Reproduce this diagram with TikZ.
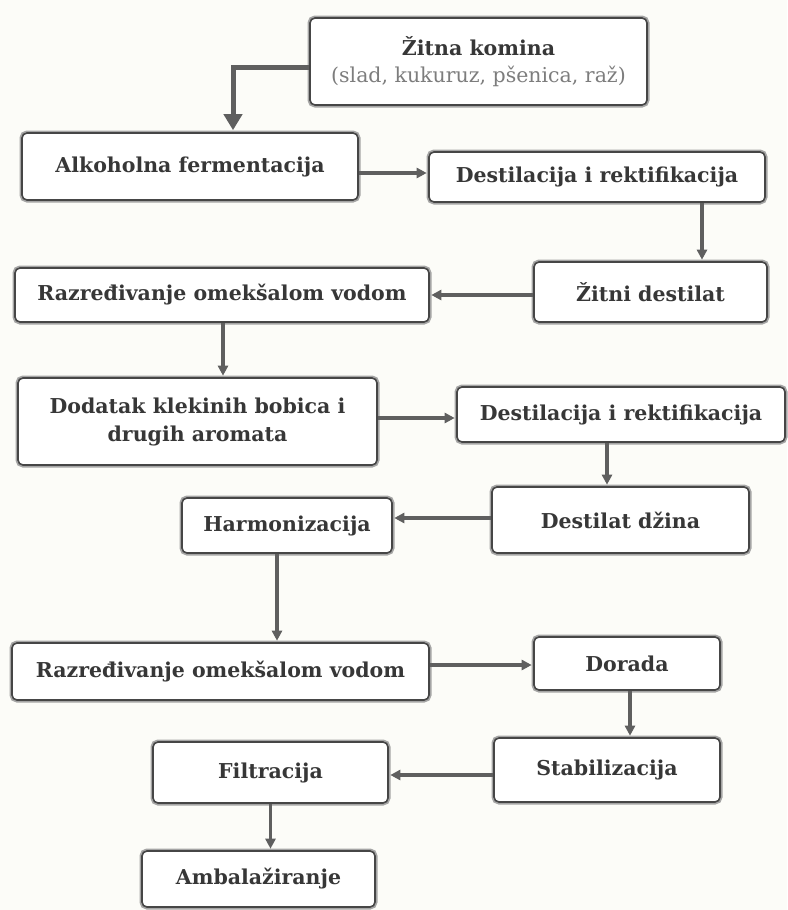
\documentclass[tikz,border=0pt]{standalone}
\usepackage{fontspec}
\setmainfont{DejaVu Serif}
\usetikzlibrary{arrows.meta}
\definecolor{bg}{RGB}{252,252,248}
\definecolor{txt}{RGB}{55,55,55}
\definecolor{sub}{RGB}{125,125,125}
\definecolor{edge}{RGB}{70,70,70}
\definecolor{halo}{RGB}{165,165,165}
\definecolor{arrc}{RGB}{95,95,95}
\tikzset{
  box/.style={rectangle, rounded corners=5pt, fill=white, draw=edge, line width=1.6pt,
    preaction={draw=halo, line width=5pt}, inner sep=0pt, align=center,
    text=txt, font=\fontsize{20.5}{28}\selectfont\bfseries},
  arr/.style={draw=arrc, line width=3.4pt, -{Triangle[length=10pt,width=10pt]}, shorten >=1.5pt},
  bigarr/.style={draw=arrc, line width=5pt, -{Triangle[length=16pt,width=18pt]}, shorten >=2pt}
}
\begin{document}
\begin{tikzpicture}[x=1pt,y=-1pt]
\fill[bg] (0,0) rectangle (787,910);
\useasboundingbox (0,0) rectangle (787,910);

\node[box, minimum width=337pt, minimum height=87pt] (zk) at (478.5,61.5)
  {Žitna komina\\[-1pt]{\fontsize{20.5}{24}\selectfont\mdseries\color{sub}(slad, kukuruz, pšenica, raž)}};
\node[box, minimum width=336pt, minimum height=67pt] (alk) at (190,166.5) {Alkoholna fermentacija};
\node[box, minimum width=336pt, minimum height=50pt] (d1) at (597,177) {Destilacija i rektifikacija};
\node[box, minimum width=233pt, minimum height=60pt] (zd) at (650.5,292) {Žitni destilat};
\node[box, minimum width=414pt, minimum height=54pt] (r1) at (222,295) {Razređivanje omekšalom vodom};
\node[box, minimum width=359pt, minimum height=87pt] (dod) at (197.5,421.5) {Dodatak klekinih bobica i\\drugih aromata};
\node[box, minimum width=328pt, minimum height=55pt] (d2) at (621,414.5) {Destilacija i rektifikacija};
\node[box, minimum width=257pt, minimum height=66pt] (dz) at (620.5,520) {Destilat džina};
\node[box, minimum width=210pt, minimum height=55pt] (har) at (287,525.5) {Harmonizacija};
\node[box, minimum width=417pt, minimum height=57pt] (r2) at (220.5,671.5) {Razređivanje omekšalom vodom};
\node[box, minimum width=186pt, minimum height=53pt] (dor) at (627,663.5) {Dorada};
\node[box, minimum width=226pt, minimum height=64pt] (stab) at (607,770) {Stabilizacija};
\node[box, minimum width=235pt, minimum height=61pt] (filt) at (270.5,772.5) {Filtracija};
\node[box, minimum width=233pt, minimum height=56pt] (amb) at (258.5,879) {Ambalažiranje};

\draw[bigarr] ([yshift=-5.5pt]zk.west) -| ([xshift=43pt]alk.north);
\draw[arr] ([yshift=-6.5pt]alk.east) coordinate (a1) -- (a1 -| d1.west);
\draw[arr] ([xshift=105pt]d1.south) coordinate (a2) -- (a2 |- zd.north);
\draw[arr] ([yshift=-3pt]zd.west) coordinate (a3) -- (a3 -| r1.east);
\draw[arr] ([xshift=1pt]r1.south) coordinate (a4) -- (a4 |- dod.north);
\draw[arr] ([yshift=3.5pt]dod.east) coordinate (a5) -- (a5 -| d2.west);
\draw[arr] ([xshift=-14pt]d2.south) coordinate (a6) -- (a6 |- dz.north);
\draw[arr] ([yshift=2pt]dz.west) coordinate (a7) -- (a7 -| har.east);
\draw[arr] ([xshift=-10pt]har.south) coordinate (a8) -- (a8 |- r2.north);
\draw[arr] ([yshift=6.5pt]r2.east) coordinate (a9) -- (a9 -| dor.west);
\draw[arr] ([xshift=3pt]dor.south) coordinate (a10) -- (a10 |- stab.north);
\draw[arr] ([yshift=-5pt]stab.west) coordinate (a11) -- (a11 -| filt.east);
\draw[arr] (filt.south) -- (filt.south |- amb.north);
\end{tikzpicture}
\end{document}
